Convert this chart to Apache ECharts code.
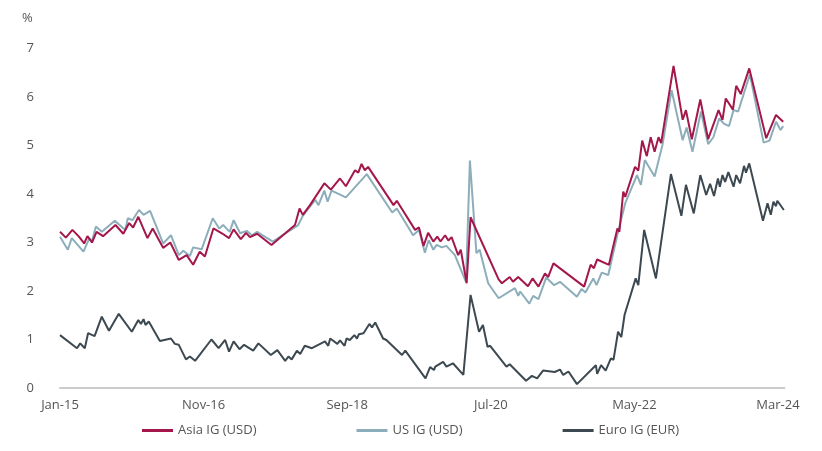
<!DOCTYPE html>
<html>
<head>
<meta charset="utf-8">
<script src="https://cdn.jsdelivr.net/npm/echarts@6/dist/echarts.min.js"></script>
<style>html,body{margin:0;padding:0;background:#fff}#c{width:822px;height:451px}</style>
</head>
<body>
<div id="c"></div>
<script>
// x = months since Jan-2015
var tickLabels = ["Jan-15", "Nov-16", "Sep-18", "Jul-20", "May-22", "Mar-24"];
var seriesNames = ["Asia IG (USD)", "US IG (USD)", "Euro IG (EUR)"];

var asiaIG = [[0.0,3.22],[0.9,3.10],[1.9,3.26],[2.9,3.12],[3.7,2.98],[4.2,3.13],[4.9,3.00],[5.6,3.22],[6.6,3.13],[8.5,3.36],[9.7,3.18],[10.6,3.40],[11.2,3.31],[12.0,3.53],[13.4,3.09],[14.2,3.29],[15.8,2.89],[16.9,3.00],[18.2,2.64],[19.4,2.74],[20.4,2.54],[21.4,2.81],[22.2,2.71],[23.5,3.29],[24.8,3.19],[25.9,3.09],[26.6,3.27],[27.7,3.07],[28.5,3.20],[29.1,3.11],[30.2,3.18],[32.4,2.95],[36.0,3.36],[36.7,3.70],[37.2,3.57],[38.3,3.77],[40.5,4.22],[41.5,4.09],[42.9,4.32],[43.8,4.16],[45.2,4.49],[45.7,4.44],[46.2,4.62],[46.7,4.49],[47.2,4.56],[51.1,3.77],[51.6,3.86],[54.4,3.26],[55.0,3.31],[55.7,2.93],[56.4,3.20],[57.2,3.02],[57.8,3.12],[58.3,3.02],[59.0,3.15],[59.5,3.04],[60.0,3.11],[61.0,2.74],[61.4,2.85],[62.3,2.16],[62.9,3.52],[67.2,2.24],[67.7,2.16],[68.9,2.29],[69.4,2.19],[70.2,2.29],[71.7,2.10],[72.4,2.26],[73.3,2.09],[74.3,2.36],[74.8,2.29],[75.6,2.57],[80.3,2.09],[81.3,2.54],[81.8,2.47],[82.3,2.65],[84.1,2.54],[85.4,3.29],[85.7,3.22],[86.3,4.05],[86.6,3.94],[88.1,4.56],[88.6,4.48],[89.2,5.10],[89.9,4.78],[90.5,5.17],[91.1,4.87],[91.7,5.17],[92.1,5.05],[94.0,6.64],[95.4,5.53],[95.9,5.73],[96.8,5.13],[98.1,5.95],[99.3,5.13],[100.9,5.73],[101.5,5.53],[102.0,5.97],[103.1,5.74],[103.6,6.23],[104.3,6.06],[105.6,6.59],[108.2,5.15],[109.7,5.63],[110.8,5.49]];

var usIG = [[0.0,3.12],[1.2,2.85],[1.8,3.09],[3.6,2.81],[4.5,3.09],[4.9,3.02],[5.5,3.33],[6.4,3.22],[8.4,3.45],[10.0,3.26],[10.4,3.50],[11.1,3.46],[12.1,3.67],[12.8,3.57],[13.8,3.65],[15.8,2.98],[17.0,3.15],[18.2,2.74],[18.9,2.83],[19.9,2.72],[20.4,2.90],[21.7,2.86],[23.4,3.50],[24.4,3.29],[25.0,3.36],[26.0,3.22],[26.6,3.46],[27.6,3.19],[28.6,3.24],[29.4,3.15],[30.2,3.22],[32.6,3.02],[36.5,3.36],[37.2,3.55],[39.1,3.88],[39.6,3.77],[40.5,4.07],[41.0,3.84],[41.6,4.07],[43.8,3.93],[47.0,4.41],[50.9,3.62],[51.6,3.70],[54.1,3.15],[55.0,3.26],[55.9,2.79],[56.5,3.05],[57.2,2.85],[57.7,2.95],[58.5,2.90],[59.2,2.93],[60.5,2.74],[62.2,2.19],[62.8,4.69],[63.8,2.78],[64.3,2.85],[65.6,2.16],[67.2,1.85],[69.7,2.06],[70.2,1.90],[70.5,1.99],[71.9,1.74],[72.5,1.90],[73.3,1.83],[74.5,2.28],[75.7,2.12],[76.6,2.19],[79.2,1.88],[79.9,2.04],[80.5,1.97],[81.7,2.26],[82.2,2.12],[83.0,2.38],[84.0,2.33],[85.5,3.22],[86.6,3.81],[88.4,4.39],[89.0,4.19],[89.6,4.70],[91.1,4.36],[92.3,5.01],[93.7,6.14],[95.4,5.11],[96.0,5.37],[96.9,4.87],[98.2,5.70],[99.3,5.03],[100.1,5.17],[101.0,5.56],[101.7,5.45],[102.5,5.40],[103.2,5.73],[103.9,5.70],[105.7,6.47],[107.8,5.06],[108.7,5.10],[109.7,5.49],[110.4,5.32],[110.8,5.40]];

var euroIG = [[0.0,1.09],[2.6,0.82],[3.1,0.92],[3.8,0.82],[4.3,1.13],[5.3,1.07],[6.4,1.47],[7.5,1.18],[9.0,1.53],[11.0,1.16],[12.0,1.40],[12.4,1.32],[12.8,1.42],[13.1,1.30],[13.6,1.37],[15.3,0.97],[17.0,1.02],[17.6,0.91],[18.2,0.89],[19.3,0.59],[19.9,0.65],[20.7,0.56],[23.2,1.00],[24.3,0.82],[25.3,0.99],[25.9,0.75],[26.6,0.96],[27.5,0.80],[28.2,0.89],[29.6,0.77],[30.4,0.92],[32.3,0.68],[33.3,0.78],[34.5,0.56],[35.0,0.65],[35.5,0.59],[36.3,0.77],[36.8,0.70],[37.5,0.87],[38.6,0.82],[40.6,0.96],[41.1,0.87],[41.4,1.02],[42.5,0.91],[42.9,0.98],[43.6,0.87],[43.9,1.02],[44.4,0.99],[45.1,1.09],[45.5,1.02],[45.8,1.11],[46.5,1.13],[47.4,1.32],[47.8,1.25],[48.3,1.35],[49.5,1.02],[50.0,0.99],[52.4,0.68],[52.9,0.77],[56.0,0.20],[56.7,0.43],[57.3,0.37],[57.5,0.44],[58.7,0.54],[59.2,0.44],[60.2,0.51],[61.8,0.27],[62.9,1.92],[64.2,1.16],[64.8,1.30],[65.5,0.85],[65.9,0.87],[68.4,0.44],[68.9,0.49],[71.4,0.15],[72.3,0.25],[73.1,0.20],[74.0,0.36],[75.8,0.33],[76.6,0.38],[77.1,0.27],[77.9,0.34],[79.2,0.08],[82.1,0.47],[82.3,0.29],[82.9,0.47],[83.6,0.36],[84.4,0.61],[84.8,0.58],[85.5,1.16],[86.0,1.05],[86.5,1.51],[86.8,1.47],[88.2,2.26],[88.6,2.12],[89.5,3.26],[91.3,2.26],[93.6,4.41],[95.2,3.55],[95.9,4.19],[97.1,3.60],[98.1,4.39],[99.0,3.98],[99.6,4.21],[100.2,3.96],[100.8,4.32],[101.1,4.15],[101.5,4.39],[101.9,4.25],[102.4,4.45],[103.2,4.15],[103.6,4.39],[104.2,4.22],[104.8,4.58],[105.1,4.44],[105.6,4.63],[107.7,3.45],[108.4,3.81],[108.9,3.57],[109.3,3.84],[109.7,3.75],[109.9,3.86],[110.9,3.67]];

var colors = ["#a3174a", "#8caebb", "#3d4951"];
var font = "Open Sans";
var chart = echarts.init(document.getElementById('c'), null, {renderer: 'canvas'});
chart.setOption({
  animation: false,
  backgroundColor: '#fff',
  color: colors,
  textStyle: {fontFamily: font},
  title: {text: '%', left: 17, top: 7, textStyle: {fontSize: 13, fontWeight: 'normal', color: '#555', fontFamily: font}},
  grid: {left: 60, right: 37.5, top: 48.5, bottom: 63, containLabel: false},
  legend: {
    data: seriesNames, left: 137, top: 419, itemWidth: 31, itemHeight: 3, itemGap: 100, icon: 'rect',
    textStyle: {fontSize: 13, color: '#555', fontFamily: font}
  },
  xAxis: {
    type: 'value', min: 0, max: 111, interval: 22,
    axisLine: {show: true, lineStyle: {color: '#cccccc', width: 2}},
    axisTick: {show: false}, splitLine: {show: false},
    axisLabel: {margin: 11, fontSize: 13, color: '#555', fontFamily: font,
      formatter: function (v) { var i = Math.round(v / 22); return (Math.abs(v - i * 22) < 1e-6 && tickLabels[i]) ? tickLabels[i] : ''; }}
  },
  yAxis: {
    type: 'value', min: 0, max: 7, interval: 1,
    axisLine: {show: false}, axisTick: {show: false}, splitLine: {show: false},
    axisLabel: {margin: 26, fontSize: 13, color: '#555', fontFamily: font}
  },
  series: [
    {name: seriesNames[0], type: 'line', data: asiaIG, symbol: 'none', z: 4, lineStyle: {width: 2}},
    {name: seriesNames[1], type: 'line', data: usIG, symbol: 'none', z: 3, lineStyle: {width: 2}},
    {name: seriesNames[2], type: 'line', data: euroIG, symbol: 'none', z: 2, lineStyle: {width: 2}}
  ]
});
</script>
</body>
</html>
